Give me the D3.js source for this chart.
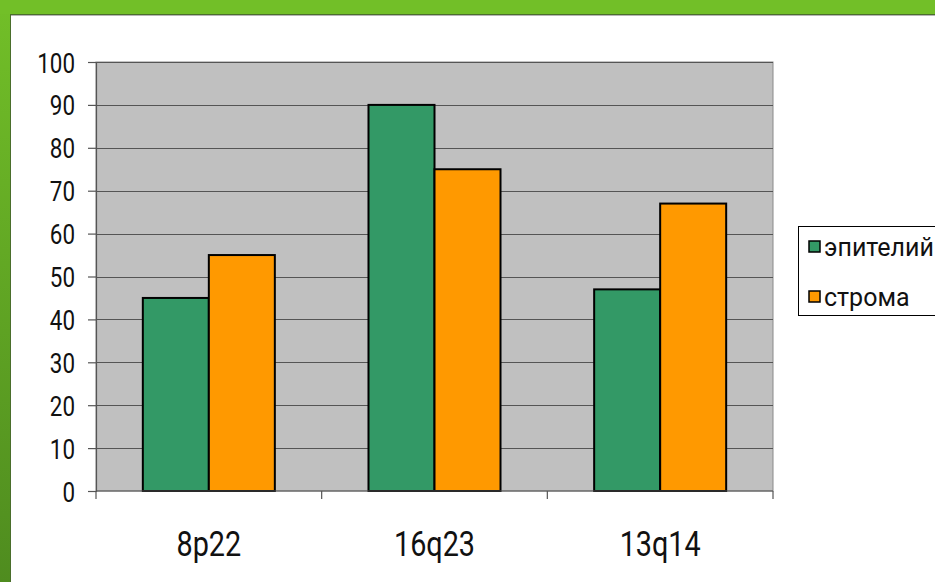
<!DOCTYPE html>
<html>
<head>
<meta charset="utf-8">
<script src="https://cdn.jsdelivr.net/npm/d3@7"></script>
<style>
  html, body { margin: 0; padding: 0; background: #ffffff; }
  svg { display: block; }
</style>
</head>
<body>
<script>
// Chart data
const categories = ["8p22", "16q23", "13q14"];
const seriesNames = ["эпителий", "строма"];
const epithelium = [45, 90, 47];
const stroma = [55, 75, 67];
const yTicks = [0, 10, 20, 30, 40, 50, 60, 70, 80, 90, 100];
const seriesColors = ["#339966", "#FF9900"];

const W = 935, H = 582;
const FONT = "Roboto, sans-serif";
const svg = d3.select("body").append("svg").attr("width", W).attr("height", H);

// Slide frame: green band along top and left edges
const defs = svg.append("defs");
const grad = defs.append("linearGradient").attr("id", "leftBand")
  .attr("x1", 0).attr("y1", 0).attr("x2", 0).attr("y2", 1);
grad.append("stop").attr("offset", "0%").attr("stop-color", "#72bf28");
grad.append("stop").attr("offset", "100%").attr("stop-color", "#4f8c1f");

svg.append("rect").attr("x", 0).attr("y", 0).attr("width", 11).attr("height", H).attr("fill", "url(#leftBand)");
svg.append("rect").attr("x", 0).attr("y", 0).attr("width", W).attr("height", 14).attr("fill", "#72bf28");
svg.append("line").attr("x1", 10).attr("x2", W).attr("y1", 14.5).attr("y2", 14.5).attr("stroke", "#4a6e2c").attr("stroke-width", 1);
svg.append("line").attr("x1", 10.5).attr("x2", 10.5).attr("y1", 14).attr("y2", H).attr("stroke", "#4a6e2c").attr("stroke-width", 1);
svg.append("line").attr("x1", 11).attr("x2", W).attr("y1", 15.5).attr("y2", 15.5).attr("stroke", "#b5b5b5").attr("stroke-width", 1);

// Plot area
const plot = { left: 96, right: 773, top: 62, bottom: 491 };

const y = d3.scaleLinear().domain([0, 100]).range([plot.bottom, plot.top]);
const x0 = d3.scaleBand().domain(categories).range([plot.left, plot.right])
  .paddingInner(0.415).paddingOuter(0.2075);
const x1 = d3.scaleBand().domain(seriesNames).range([0, x0.bandwidth()]);

const g = svg.append("g");

g.append("rect")
  .attr("x", plot.left).attr("y", plot.top)
  .attr("width", plot.right - plot.left).attr("height", plot.bottom - plot.top)
  .attr("fill", "#c0c0c0").attr("stroke", "#8a8a8a").attr("stroke-width", 1);

// Horizontal gridlines
g.selectAll("line.grid").data(yTicks.filter(d => d > 0)).enter().append("line")
  .attr("class", "grid")
  .attr("x1", plot.left).attr("x2", plot.right)
  .attr("y1", d => Math.round(y(d)) + 0.5).attr("y2", d => Math.round(y(d)) + 0.5)
  .attr("stroke", "#555555").attr("stroke-width", 1.2);

// Bars
const rows = categories.map((c, i) => ({ cat: c, vals: [epithelium[i], stroma[i]] }));
const groups = g.selectAll("g.cat").data(rows).enter().append("g")
  .attr("transform", d => `translate(${x0(d.cat)},0)`);
groups.selectAll("rect").data(d => d.vals.map((v, j) => ({ name: seriesNames[j], v, j })))
  .enter().append("rect")
  .attr("x", d => x1(d.name))
  .attr("y", d => y(d.v))
  .attr("width", x1.bandwidth())
  .attr("height", d => y(0) - y(d.v))
  .attr("fill", d => seriesColors[d.j])
  .attr("stroke", "#000").attr("stroke-width", 2);

// Y axis (labels drawn slightly condensed)
const yAxis = d3.axisLeft(y).tickValues(yTicks).tickSize(8).tickPadding(0).tickFormat(d3.format("d"));
const ya = svg.append("g").attr("transform", `translate(${plot.left},0)`).call(yAxis);
ya.select(".domain").attr("stroke", "#555").attr("stroke-width", 1.2);
ya.selectAll(".tick line").attr("stroke", "#555").attr("stroke-width", 1.2);
ya.selectAll(".tick text")
  .attr("x", 0).attr("dy", "0.36em")
  .attr("transform", "translate(-21,0) scale(0.8,1)")
  .attr("font-family", FONT).attr("font-size", 28).attr("fill", "#111");

// X axis: ticks at category boundaries
const xa = svg.append("g").attr("transform", `translate(0,${plot.bottom})`);
xa.append("line").attr("x1", plot.left).attr("x2", plot.right).attr("y1", 0).attr("y2", 0)
  .attr("stroke", "#555").attr("stroke-width", 1.2);
const bounds = [plot.left].concat(categories.map(c => x0(c) + x0.bandwidth() + x0.step() * x0.paddingInner() / 2));
bounds[bounds.length - 1] = plot.right;
xa.selectAll("line.t").data(bounds).enter().append("line").attr("class", "t")
  .attr("x1", d => d).attr("x2", d => d).attr("y1", 0).attr("y2", 8)
  .attr("stroke", "#555").attr("stroke-width", 1.2);
xa.selectAll("text").data(categories).enter().append("text")
  .attr("transform", d => `translate(${x0(d) + x0.bandwidth() / 2},65) scale(0.8,1)`)
  .attr("text-anchor", "middle")
  .attr("font-family", FONT).attr("font-size", 36)
  .attr("fill", "#111")
  .text(d => d);

// Legend
const leg = svg.append("g").attr("transform", "translate(798,226)");
leg.append("rect").attr("x", 0.5).attr("y", 0.5).attr("width", 150).attr("height", 89)
  .attr("fill", "#fff").attr("stroke", "#000").attr("stroke-width", 1);
seriesNames.forEach((name, i) => {
  const row = leg.append("g").attr("transform", `translate(11,${15 + i * 50})`);
  row.append("rect").attr("x", 0).attr("y", 0).attr("width", 11).attr("height", 11)
    .attr("fill", seriesColors[i]).attr("stroke", "#000").attr("stroke-width", 1.5);
  row.append("text").attr("x", 15).attr("y", 5.5).attr("dy", "0.36em")
    .attr("font-family", FONT).attr("font-size", 25).attr("fill", "#111")
    .text(name);
});
</script>
</body>
</html>
